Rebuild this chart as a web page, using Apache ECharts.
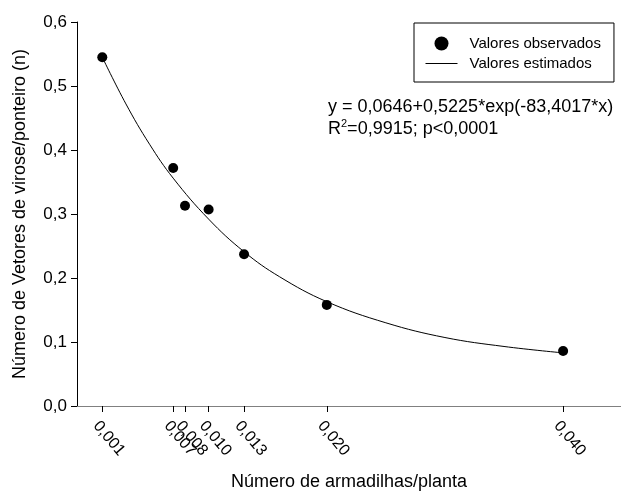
<!DOCTYPE html>
<html>
<head>
<meta charset="utf-8">
<script src="https://cdn.jsdelivr.net/npm/echarts@6/dist/echarts.min.js"></script>
<style>
  html, body { margin: 0; padding: 0; background: #fff; }
  #chart { width: 621px; height: 491px; }
</style>
</head>
<body>
<div id="chart"></div>
<script>
// Observed values: traps per plant vs. vectors per pointer
const trapsPerPlant = [0.001, 0.007, 0.008, 0.010, 0.013, 0.020, 0.040];
const observedVectors = [0.545, 0.372, 0.313, 0.307, 0.237, 0.158, 0.086];

// Points along the fitted exponential curve
const curveX = [0.001, 0.003, 0.005, 0.007, 0.010, 0.013, 0.016, 0.020, 0.025, 0.030, 0.035, 0.040];
const curveY = [0.545, 0.472, 0.409, 0.356, 0.292, 0.241, 0.202, 0.163, 0.130, 0.107, 0.093, 0.083];

// Axis ticks
const xTickValues = [0.001, 0.007, 0.008, 0.010, 0.013, 0.020, 0.040];
const yTickLabels = ['0,0', '0,1', '0,2', '0,3', '0,4', '0,5', '0,6'];

const FONT = "'Liberation Sans', Arial, sans-serif";

const chart = echarts.init(document.getElementById('chart'), null, { renderer: 'canvas' });

const commaFmt = (v, d) => v.toFixed(d).replace('.', ',');

chart.setOption({
  animation: false,
  backgroundColor: '#ffffff',
  textStyle: { fontFamily: FONT, color: '#000' },
  grid: { left: 77, right: 0, top: 22, bottom: 85, containLabel: false, outerBoundsMode: 'none' },
  legend: {
    left: 414,
    top: 23,
    orient: 'vertical',
    backgroundColor: '#fff',
    borderColor: '#000',
    borderWidth: 1,
    borderRadius: 0,
    padding: [13, 13, 11, 11],
    itemWidth: 32,
    itemHeight: 14,
    itemGap: 5,
    textStyle: { fontFamily: FONT, fontSize: 15, color: '#000', padding: [0, 0, 0, 7] },
    data: [
      { name: 'Valores observados', icon: 'circle', itemStyle: { color: '#000' } },
      {
        name: 'Valores estimados',
        itemStyle: { color: 'rgba(0,0,0,0)', borderColor: 'rgba(0,0,0,0)', borderWidth: 0 },
        lineStyle: { color: '#000', width: 1 }
      }
    ]
  },
  xAxis: {
    type: 'value',
    min: -0.00114,
    max: 0.0449,
    splitLine: { show: false },
    axisLine: { show: true, onZero: false, lineStyle: { color: '#808080', width: 1 } },
    axisTick: {
      show: true,
      length: 6,
      lineStyle: { color: '#000' },
      customValues: xTickValues
    },
    axisLabel: {
      customValues: xTickValues,
      rotate: -50,
      margin: 12,
      verticalAlign: 'top',
      fontSize: 16,
      fontFamily: FONT,
      color: '#000',
      formatter: v => commaFmt(v, 3)
    },
    name: 'Número de armadilhas/planta',
    nameLocation: 'middle',
    nameGap: 67,
    nameTextStyle: { fontFamily: FONT, fontSize: 18, color: '#000' }
  },
  yAxis: {
    type: 'value',
    min: 0,
    max: 0.6,
    interval: 0.1,
    splitLine: { show: false },
    axisLine: { show: true, onZero: false, lineStyle: { color: '#000', width: 1 } },
    axisTick: { show: true, length: 6, lineStyle: { color: '#000' } },
    axisLabel: {
      margin: 10,
      fontSize: 17,
      fontFamily: FONT,
      color: '#000',
      formatter: v => yTickLabels[Math.round(v * 10)]
    },
    name: 'Número de Vetores de virose/ponteiro (n)',
    nameLocation: 'middle',
    nameGap: 48,
    nameTextStyle: { fontFamily: FONT, fontSize: 18, color: '#000' }
  },
  graphic: [
    {
      type: 'text',
      left: 328,
      top: 96,
      style: {
        text: 'y = 0,0646+0,5225*exp(-83,4017*x)\n{t|R}{sup|2}{t|=0,9915; p<0,0001}',
        fontFamily: FONT,
        fontSize: 18,
        lineHeight: 22,
        fill: '#000',
        rich: {
          t: { fontFamily: FONT, fontSize: 18, fill: '#000' },
          sup: { fontFamily: FONT, fontSize: 11, fill: '#000', verticalAlign: 'top', padding: [0, 0, 6, 0] }
        }
      }
    }
  ],
  series: [
    {
      name: 'Valores estimados',
      type: 'line',
      data: curveX.map((x, i) => [x, curveY[i]]),
      smooth: 0.4,
      symbol: 'none',
      lineStyle: { color: '#000', width: 1 },
      itemStyle: { color: '#000' },
      z: 2
    },
    {
      name: 'Valores observados',
      type: 'scatter',
      data: trapsPerPlant.map((x, i) => [x, observedVectors[i]]),
      symbol: 'circle',
      symbolSize: 10,
      itemStyle: { color: '#000', opacity: 1 },
      z: 3
    }
  ]
});
</script>
</body>
</html>
